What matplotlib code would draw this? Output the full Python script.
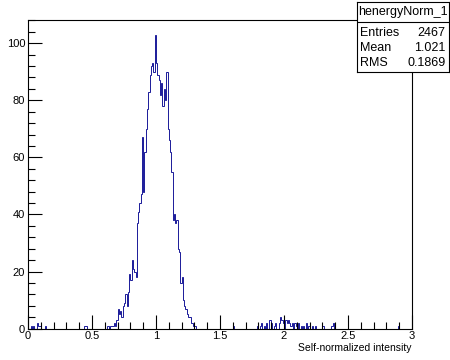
import numpy as np
import matplotlib
matplotlib.use("Agg")
import matplotlib.pyplot as plt
from matplotlib.ticker import MultipleLocator

plt.rcParams['font.family'] = ['Liberation Sans', 'DejaVu Sans']

# histogram: 300 bins of width 0.01 between 0 and 3
n_bins = 300
x_min, x_max = 0.0, 3.0

# main peak, bins starting at 0.62
peak_start = 0.62
peak_counts = [1, 0, 1, 1, 1, 2, 1, 3,
               7, 5, 6, 4, 8, 9, 12, 8, 13, 19,
               17, 24, 21, 20, 18, 37, 41, 44, 47, 67,
               48, 62, 70, 77, 83, 89, 92, 93, 90, 103,
               93, 89, 87, 82, 86, 78, 84, 80, 90, 70,
               66, 62, 55, 38, 40, 37, 38, 28, 27, 16,
               18, 10, 8, 7, 5, 4, 4, 2, 2, 1, 1]

# scattered entries outside the peak (bin low edge, count)
tail_x = [0.02, 0.04, 0.07, 0.08, 0.09, 0.13, 0.44, 0.45,
          1.60, 1.79, 1.81, 1.82, 1.84, 1.86, 1.88, 1.89, 1.90, 1.92, 1.93,
          1.96, 1.97, 1.98, 1.99, 2.01, 2.02, 2.03, 2.04, 2.05, 2.06, 2.08,
          2.09, 2.11, 2.13, 2.15, 2.17, 2.19, 2.22, 2.24, 2.30, 2.37, 2.38, 2.89]
tail_n = [1, 1, 2, 1, 1, 1, 1, 1,
          1, 1, 1, 2, 1, 2, 3, 3, 2, 1, 2,
          2, 4, 3, 2, 3, 2, 3, 2, 1, 2, 2,
          1, 2, 1, 1, 2, 1, 1, 1, 1, 1, 2, 1]

x_ticks = [0, 0.5, 1, 1.5, 2, 2.5, 3]
x_tick_labels = ['0', '0.5', '1', '1.5', '2', '2.5', '3']
y_ticks = [0, 20, 40, 60, 80, 100]

stats_title = "henergyNorm_1"
stats_rows = [("Entries", "2467"), ("Mean", "1.021"), ("RMS", "0.1869")]
x_label = "Self-normalized intensity"

edges = np.linspace(x_min, x_max, n_bins + 1)
counts = np.zeros(n_bins)
i0 = int(round(peak_start * 100))
counts[i0:i0 + len(peak_counts)] = peak_counts
for x, n in zip(tail_x, tail_n):
    counts[int(round(x * 100))] += n

W, H = 450, 360
fig = plt.figure(figsize=(W / 100, H / 100), dpi=100)
ax = fig.add_axes([28 / W, 1 - 328.6 / H, 384 / W, (328.6 - 20) / H])

ax.stairs(counts, edges, color='#1a1a99', linewidth=0.7)
ax.set_xlim(x_min, x_max)
ax.set_ylim(0, counts.max() * 1.05)

ax.set_xticks(x_ticks)
ax.set_xticklabels(x_tick_labels)
ax.set_yticks(y_ticks)
ax.xaxis.set_minor_locator(MultipleLocator(0.1))
ax.yaxis.set_minor_locator(MultipleLocator(4))
ax.tick_params(which='both', direction='in', top=False, right=False,
               width=0.8, labelsize=8, pad=2)
ax.tick_params(which='major', length=10)
ax.tick_params(which='minor', length=5)
for s in ax.spines.values():
    s.set_linewidth(0.8)

ax.set_xlabel(x_label, fontsize=7.5, loc='right', labelpad=1)

# stats box
sb = fig.add_axes([357 / W, 1 - 72 / H, 92 / W, 70 / H])
sb.set_xticks([])
sb.set_yticks([])
sb.set_xlim(0, 1)
sb.set_ylim(0, 1)
for s in sb.spines.values():
    s.set_linewidth(0.8)
sb.text(0.5, 0.857, stats_title, ha='center', va='center', fontsize=9)
sb.axhline(0.714, color='black', linewidth=0.8)
for k, (name, val) in enumerate(stats_rows):
    yy = 0.557 - k * 0.214
    sb.text(0.03, yy, name, ha='left', va='center', fontsize=9)
    sb.text(0.96, yy, val, ha='right', va='center', fontsize=9)

fig.savefig('out.png', dpi=100)
